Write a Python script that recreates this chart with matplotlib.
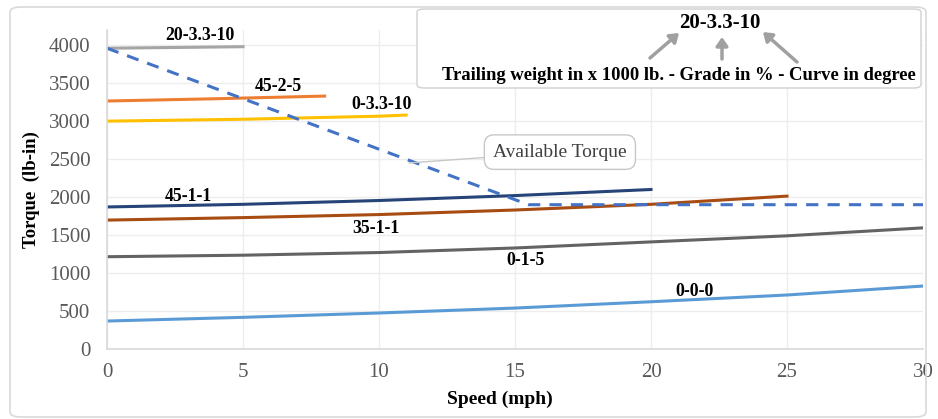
import matplotlib
matplotlib.use("Agg")
import matplotlib.pyplot as plt
from matplotlib.patches import FancyBboxPatch, FancyArrowPatch

# ---------------- data ----------------
speed_avail = [0, 15.5, 30]
torque_avail = [3960, 1900, 1900]

speed_20_33_10 = [0, 5]
torque_20_33_10 = [3960, 3980]

speed_45_2_5 = [0, 4, 8]
torque_45_2_5 = [3265, 3295, 3330]

speed_0_33_10 = [0, 5, 10, 11]
torque_0_33_10 = [3000, 3025, 3065, 3080]

speed_45_1_1 = [0, 5, 10, 15, 20]
torque_45_1_1 = [1870, 1905, 1955, 2020, 2100]

speed_35_1_1 = [0, 5, 10, 15, 20, 25]
torque_35_1_1 = [1697, 1730, 1770, 1830, 1905, 2013]

speed_0_1_5 = [0, 5, 10, 15, 20, 25, 30]
torque_0_1_5 = [1215, 1235, 1270, 1330, 1410, 1490, 1595]

speed_0_0_0 = [0, 5, 10, 15, 20, 25, 30]
torque_0_0_0 = [368, 417, 474, 539, 622, 711, 829]

x_ticks = [0, 5, 10, 15, 20, 25, 30]
y_ticks = [0, 500, 1000, 1500, 2000, 2500, 3000, 3500, 4000]

# ---------------- figure ----------------
W, H = 938, 419
fig = plt.figure(figsize=(W / 100, H / 100), dpi=100)
plt.rcParams['font.family'] = ['Liberation Serif', 'DejaVu Serif']

def fx(px):
    return px / W

def fy(py):
    return 1 - py / H

# outer rounded border
border = FancyBboxPatch((fx(10), fy(417)), fx(926) - fx(10), fy(7) - fy(417),
                        boxstyle="round,pad=0,rounding_size=0.012",
                        transform=fig.transFigure, fill=False,
                        edgecolor="#D9D9D9", linewidth=1.2)
fig.patches.append(border)

ax = fig.add_axes([fx(107), fy(349), fx(923) - fx(107), fy(30) - fy(349)])
ax.set_xlim(0, 30)
ax.set_ylim(0, 4200)
ax.set_xticks(x_ticks)
ax.set_yticks(y_ticks)
ax.grid(True, color="#EDEDED", linewidth=1)
ax.set_axisbelow(True)
for s in ["top", "right"]:
    ax.spines[s].set_visible(False)
for s in ["left", "bottom"]:
    ax.spines[s].set_color("#D9D9D9")
    ax.spines[s].set_linewidth(1.2)
ax.tick_params(axis="both", length=0, labelsize=15, labelcolor="#595959")
ax.tick_params(axis="x", pad=10)
ax.tick_params(axis="y", pad=12)

lw = 2.2
ax.plot(speed_0_0_0, torque_0_0_0, color="#5B9BD5", lw=lw)
ax.plot(speed_0_1_5, torque_0_1_5, color="#636363", lw=lw)
ax.plot(speed_35_1_1, torque_35_1_1, color="#A84C12", lw=lw)
ax.plot(speed_45_1_1, torque_45_1_1, color="#264478", lw=lw)
ax.plot(speed_0_33_10, torque_0_33_10, color="#FFC000", lw=lw)
ax.plot(speed_45_2_5, torque_45_2_5, color="#ED7D31", lw=lw)
ax.plot(speed_20_33_10, torque_20_33_10, color="#A5A5A5", lw=lw)
ax.plot(speed_avail, torque_avail, color="#4472C4", lw=2.2, ls=(0, (4, 3)))

lab_kw = dict(fontsize=12.8, fontweight="bold", color="black", ha="center", va="center")
ax.text(3.4, 4130, "20-3.3-10", **lab_kw)
ax.text(6.3, 3460, "45-2-5", **lab_kw)
ax.text(10.1, 3220, "0-3.3-10", **lab_kw)
ax.text(3.0, 2010, "45-1-1", **lab_kw)
ax.text(9.9, 1590, "35-1-1", **lab_kw)
ax.text(15.4, 1170, "0-1-5", **lab_kw)
ax.text(21.6, 760, "0-0-0", **lab_kw)

ax.annotate("Available Torque", xy=(11.1, 2450), xytext=(16.65, 2592),
            fontsize=14, color="#404040", ha="center", va="center",
            bbox=dict(boxstyle="round,pad=0.45,rounding_size=0.5", fc="white",
                      ec="#C8C8C8", lw=1),
            arrowprops=dict(arrowstyle="-", color="#C8C8C8", lw=1,
                            shrinkA=0, shrinkB=0))

ax.set_xlabel("Speed (mph)", fontsize=14, fontweight="bold", labelpad=4)
ax.xaxis.set_label_coords((500 - 107) / (923 - 107), -0.13)
ax.set_ylabel("Torque  (lb-in)", fontsize=13.5, fontweight="bold", labelpad=6)

# top-right explanation box
box = FancyBboxPatch((fx(417), fy(88)), fx(921) - fx(417), fy(9) - fy(88),
                     boxstyle="round,pad=0,rounding_size=0.008",
                     transform=fig.transFigure, facecolor="white",
                     edgecolor="#D0D0D0", linewidth=1, zorder=5)
fig.patches.append(box)
fig.text(fx(720), fy(23), "20-3.3-10", fontsize=15, fontweight="bold",
         ha="center", va="center", zorder=6)
fig.text(fx(679), fy(76), "Trailing weight in x 1000 lb. - Grade in % - Curve in degree",
         fontsize=13.4, fontweight="bold", ha="center", va="center", zorder=6)
for (x0, y0, x1, y1) in [(650, 58, 679, 33), (722, 59, 722, 37), (797, 62, 763, 32)]:
    arr = FancyArrowPatch((fx(x0), fy(y0)), (fx(x1), fy(y1)),
                          transform=fig.transFigure,
                          arrowstyle="-|>,head_length=5,head_width=3.5",
                          color="#A0A0A0", lw=2.5, zorder=6,
                          shrinkA=0, shrinkB=0)
    fig.patches.append(arr)

fig.savefig("out.png", dpi=100)
